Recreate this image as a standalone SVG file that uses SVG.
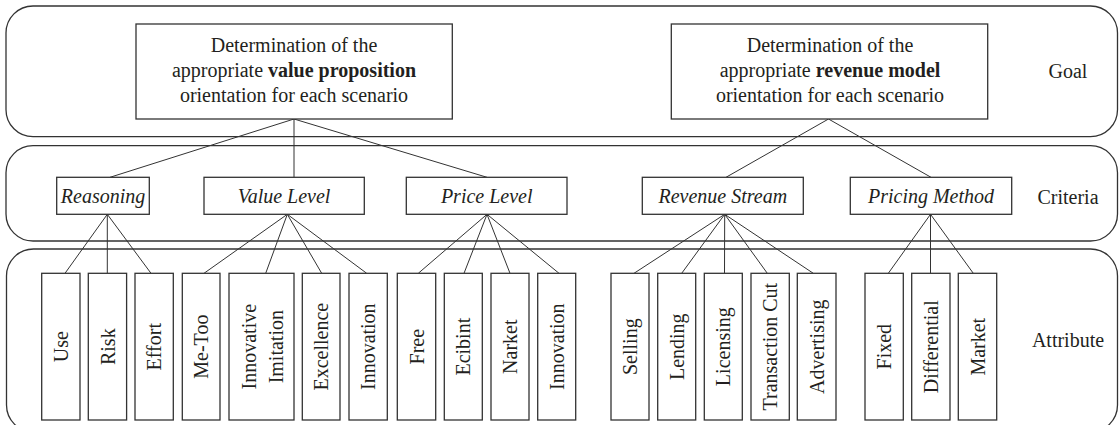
<svg xmlns="http://www.w3.org/2000/svg" width="1119" height="425" viewBox="0 0 1119 425">
<style>
  .band { fill: none; stroke: #333; stroke-width: 1.3; }
  .box { fill: #fff; stroke: #333; stroke-width: 1.3; }
  .t { font-family: "Liberation Serif", "Times New Roman", serif; font-size: 20px; fill: #231f20; }
  .i { font-style: italic; }
  .b { font-weight: bold; }
  .mid { text-anchor: middle; }
  .conn line { stroke: #333; stroke-width: 1; }
</style>
<rect width="1119" height="425" fill="#fff"/>

<g id="bands">
  <rect class="band" x="6" y="6" width="1111.5" height="130.7" rx="27" ry="27"/>
  <rect class="band" x="6" y="145.7" width="1111.5" height="95.3" rx="27" ry="27"/>
  <rect class="band" x="6.5" y="249" width="1111" height="183" rx="27" ry="27"/>
  <text class="t mid" x="1068" y="78.3">Goal</text>
  <text class="t mid" x="1068" y="204">Criteria</text>
  <text class="t mid" x="1068" y="347.3">Attribute</text>
</g>

<g id="connectors" class="conn">
  <line x1="294" y1="119" x2="110" y2="177.3"/>
  <line x1="294" y1="119" x2="294" y2="177.3"/>
  <line x1="294" y1="119" x2="487" y2="177.3"/>
  <line x1="828.5" y1="119" x2="726" y2="177.3"/>
  <line x1="828.5" y1="119" x2="931" y2="177.3"/>

  <line x1="107.3" y1="214.3" x2="65" y2="273.3"/>
  <line x1="107.3" y1="214.3" x2="107.3" y2="273.3"/>
  <line x1="107.3" y1="214.3" x2="151" y2="273.3"/>

  <line x1="287.3" y1="214.3" x2="204" y2="273.3"/>
  <line x1="287.3" y1="214.3" x2="265.7" y2="273.3"/>
  <line x1="287.3" y1="214.3" x2="321.7" y2="273.3"/>
  <line x1="287.3" y1="214.3" x2="366.7" y2="273.3"/>

  <line x1="487" y1="214.3" x2="418.3" y2="273.3"/>
  <line x1="487" y1="214.3" x2="464" y2="273.3"/>
  <line x1="487" y1="214.3" x2="510" y2="273.3"/>
  <line x1="487" y1="214.3" x2="559" y2="273.3"/>

  <line x1="724.7" y1="214.3" x2="634" y2="273.3"/>
  <line x1="724.7" y1="214.3" x2="681.7" y2="273.3"/>
  <line x1="724.7" y1="214.3" x2="724.5" y2="273.3"/>
  <line x1="724.7" y1="214.3" x2="767.3" y2="273.3"/>
  <line x1="724.7" y1="214.3" x2="813.3" y2="273.3"/>

  <line x1="930.5" y1="214.3" x2="888.3" y2="273.3"/>
  <line x1="930.5" y1="214.3" x2="930.5" y2="273.3"/>
  <line x1="930.5" y1="214.3" x2="973.3" y2="273.3"/>
</g>

<g id="goal-value-proposition">
  <rect class="box" x="136" y="24" width="316.3" height="95"/>
  <text class="t mid" x="294" y="52">Determination of the</text>
  <text class="t mid" x="294" y="77">appropriate <tspan class="b">value proposition</tspan></text>
  <text class="t mid" x="294" y="102">orientation for each scenario</text>
</g>
<g id="goal-revenue-model">
  <rect class="box" x="671.3" y="24" width="316.4" height="95"/>
  <text class="t mid" x="830" y="52">Determination of the</text>
  <text class="t mid" x="830" y="77">appropriate <tspan class="b">revenue model</tspan></text>
  <text class="t mid" x="830" y="102">orientation for each scenario</text>
</g>

<g id="crit-reasoning">
  <rect class="box" x="56.7" y="177.3" width="92.6" height="37"/>
  <text class="t i mid" x="103" y="203.3">Reasoning</text>
</g>
<g id="crit-value-level">
  <rect class="box" x="204" y="177.3" width="160.3" height="37"/>
  <text class="t i mid" x="284" y="203.3">Value Level</text>
</g>
<g id="crit-price-level">
  <rect class="box" x="406.3" y="177.3" width="160.7" height="37"/>
  <text class="t i mid" x="486.7" y="203.3">Price Level</text>
</g>
<g id="crit-revenue-stream">
  <rect class="box" x="642.3" y="177.3" width="161" height="37"/>
  <text class="t i mid" x="722.8" y="203.3">Revenue Stream</text>
</g>
<g id="crit-pricing-method">
  <rect class="box" x="850.3" y="177.3" width="161.4" height="37"/>
  <text class="t i mid" x="931" y="203.3">Pricing Method</text>
</g>

<g id="attr-use">
  <rect class="box" x="41.7" y="273.3" width="38.3" height="146.7"/>
  <text class="t mid" transform="translate(68,346.7) rotate(-90)">Use</text>
</g>
<g id="attr-risk">
  <rect class="box" x="88.3" y="273.3" width="38.3" height="146.7"/>
  <text class="t mid" transform="translate(114.5,346.7) rotate(-90)">Risk</text>
</g>
<g id="attr-effort">
  <rect class="box" x="135" y="273.3" width="38.3" height="146.7"/>
  <text class="t mid" transform="translate(161.2,346.7) rotate(-90)">Effort</text>
</g>
<g id="attr-me-too">
  <rect class="box" x="182.3" y="273.3" width="37.7" height="146.7"/>
  <text class="t mid" transform="translate(208,346.7) rotate(-90)">Me-Too</text>
</g>
<g id="attr-innovative-imitation">
  <rect class="box" x="229" y="273.3" width="65" height="146.7"/>
  <text class="t mid" transform="translate(256,346.7) rotate(-90)">Innovative</text>
  <text class="t mid" transform="translate(282.5,346.7) rotate(-90)">Imitation</text>
</g>
<g id="attr-excellence">
  <rect class="box" x="302.3" y="273.3" width="37.7" height="146.7"/>
  <text class="t mid" transform="translate(328,346.7) rotate(-90)">Excellence</text>
</g>
<g id="attr-innovation-1">
  <rect class="box" x="349" y="273.3" width="38.3" height="146.7"/>
  <text class="t mid" transform="translate(375.2,346.7) rotate(-90)">Innovation</text>
</g>
<g id="attr-free">
  <rect class="box" x="397.3" y="273.3" width="38.4" height="146.7"/>
  <text class="t mid" transform="translate(423.5,346.7) rotate(-90)">Free</text>
</g>
<g id="attr-ecibint">
  <rect class="box" x="444.3" y="273.3" width="38" height="146.7"/>
  <text class="t mid" transform="translate(470.3,346.7) rotate(-90)">Ecibint</text>
</g>
<g id="attr-narket">
  <rect class="box" x="491" y="273.3" width="38" height="146.7"/>
  <text class="t mid" transform="translate(517,346.7) rotate(-90)">Narket</text>
</g>
<g id="attr-innovation-2">
  <rect class="box" x="537.7" y="273.3" width="38" height="146.7"/>
  <text class="t mid" transform="translate(563.7,346.7) rotate(-90)">Innovation</text>
</g>
<g id="attr-selling">
  <rect class="box" x="611" y="273.3" width="38" height="146.7"/>
  <text class="t mid" transform="translate(637,346.7) rotate(-90)">Selling</text>
</g>
<g id="attr-lending">
  <rect class="box" x="657.7" y="273.3" width="38" height="146.7"/>
  <text class="t mid" transform="translate(683.7,346.7) rotate(-90)">Lending</text>
</g>
<g id="attr-licensing">
  <rect class="box" x="704.3" y="273.3" width="38" height="146.7"/>
  <text class="t mid" transform="translate(730.3,346.7) rotate(-90)">Licensing</text>
</g>
<g id="attr-transaction-cut">
  <rect class="box" x="751" y="273.3" width="38.3" height="146.7"/>
  <text class="t mid" transform="translate(777.2,346.7) rotate(-90)">Transaction Cut</text>
</g>
<g id="attr-advertising">
  <rect class="box" x="797.3" y="273.3" width="38.7" height="146.7"/>
  <text class="t mid" transform="translate(823.7,346.7) rotate(-90)">Advertising</text>
</g>
<g id="attr-fixed">
  <rect class="box" x="865" y="273.3" width="38.3" height="146.7"/>
  <text class="t mid" transform="translate(891.2,346.7) rotate(-90)">Fixed</text>
</g>
<g id="attr-differential">
  <rect class="box" x="911.7" y="273.3" width="38.3" height="146.7"/>
  <text class="t mid" transform="translate(937.9,346.7) rotate(-90)">Differential</text>
</g>
<g id="attr-market">
  <rect class="box" x="958.3" y="273.3" width="38.4" height="146.7"/>
  <text class="t mid" transform="translate(984.5,346.7) rotate(-90)">Market</text>
</g>
</svg>
